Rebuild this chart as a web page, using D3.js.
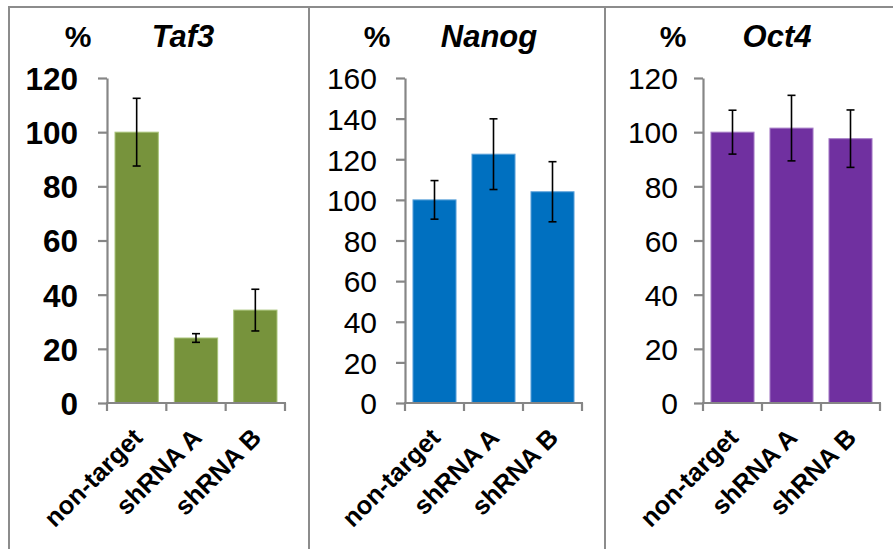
<!DOCTYPE html>
<html>
<head>
<meta charset="utf-8">
<script src="https://cdn.jsdelivr.net/npm/d3@7"></script>
<style>
  html, body { margin: 0; padding: 0; background: #fff; }
  svg { display: block; font-family: "Liberation Sans", Arial, sans-serif; }
</style>
</head>
<body>
<svg id="chart" width="893" height="549"></svg>
<script>
// Relative expression (%) after knockdown, three genes
const categories = ["non-target", "shRNA A", "shRNA B"];

const taf3Values = [100, 24, 34.3];
const taf3Errors = [12.5, 1.6, 7.7];

const nanogValues = [100, 122.5, 104];
const nanogErrors = [9.5, 17.4, 14.8];

const oct4Values = [100, 101.5, 97.6];
const oct4Errors = [8.1, 12.1, 10.6];

const taf3Ticks = [0, 20, 40, 60, 80, 100, 120];
const nanogTicks = [0, 20, 40, 60, 80, 100, 120, 140, 160];
const oct4Ticks = [0, 20, 40, 60, 80, 100, 120];

const panels = [
  { title: "Taf3", values: taf3Values, errors: taf3Errors, ticks: taf3Ticks,
    color: "#77933C", edge: "#a9c47a", x0: 107, x1: 285, pctX: 78, titleX: 183,
    tickBold: true, tickSize: 31.5, labelGap: 29 },
  { title: "Nanog", values: nanogValues, errors: nanogErrors, ticks: nanogTicks,
    color: "#0070C0", edge: "#5fa4db", x0: 405, x1: 582, pctX: 377, titleX: 489,
    tickBold: false, tickSize: 30, labelGap: 28 },
  { title: "Oct4", values: oct4Values, errors: oct4Errors, ticks: oct4Ticks,
    color: "#7030A0", edge: "#a77fc7", x0: 703, x1: 880, pctX: 673, titleX: 777,
    tickBold: false, tickSize: 30, labelGap: 25 }
];

const svg = d3.select("#chart");
const yTop = 78, yBottom = 403;
const axisColor = "#868686";

// Panel frames: shared top rule and vertical separators
const frame = svg.append("g").attr("stroke", "#8c8c8c").attr("stroke-width", 2).attr("fill", "none");
frame.append("line").attr("x1", 9).attr("x2", 893).attr("y1", 7).attr("y2", 7);
[9, 309, 605].forEach(x => {
  frame.append("line").attr("x1", x).attr("x2", x).attr("y1", 6).attr("y2", 549);
});

panels.forEach(p => {
  const g = svg.append("g");
  const yMax = d3.max(p.ticks);

  const x = d3.scaleBand().domain(categories).range([p.x0, p.x1])
    .paddingInner(0.27).paddingOuter(0.135);
  const y = d3.scaleLinear().domain([0, yMax]).range([yBottom, yTop]);

  // Bars
  g.selectAll("rect.bar").data(categories).join("rect")
    .attr("class", "bar")
    .attr("x", d => x(d))
    .attr("width", x.bandwidth())
    .attr("y", (d, i) => y(p.values[i]))
    .attr("height", (d, i) => y(0) - y(p.values[i]))
    .attr("fill", p.color)
    .attr("stroke", p.edge)
    .attr("stroke-width", 1);

  // Error bars
  const eb = g.append("g").attr("stroke", "#000").attr("stroke-width", 1.6);
  categories.forEach((c, i) => {
    const cx = x(c) + x.bandwidth() / 2;
    const hi = y(p.values[i] + p.errors[i]);
    const lo = y(p.values[i] - p.errors[i]);
    eb.append("line").attr("x1", cx).attr("x2", cx).attr("y1", hi).attr("y2", lo);
    eb.append("line").attr("x1", cx - 4).attr("x2", cx + 4).attr("y1", hi).attr("y2", hi);
    eb.append("line").attr("x1", cx - 4).attr("x2", cx + 4).attr("y1", lo).attr("y2", lo);
  });

  // Y axis
  const yAxis = g.append("g").attr("transform", `translate(${p.x0},0)`)
    .call(d3.axisLeft(y).tickValues(p.ticks).tickSize(9).tickSizeOuter(0).tickPadding(p.labelGap - 9));
  yAxis.select(".domain").attr("stroke", axisColor).attr("stroke-width", 2.2);
  yAxis.selectAll(".tick line").attr("stroke", axisColor).attr("stroke-width", 2.2);
  yAxis.selectAll(".tick text")
    .attr("fill", "#000")
    .attr("font-family", "Liberation Sans, Arial, sans-serif")
    .attr("font-size", p.tickSize)
    .attr("font-weight", p.tickBold ? "bold" : "normal")
    .attr("dy", "0.36em");

  // X axis with category ticks at band edges
  const edges = categories.map(c => x(c) - x.step() * x.paddingInner() / 2).concat([p.x1]);
  edges[0] = p.x0;
  const xa = g.append("g").attr("stroke", axisColor).attr("stroke-width", 2.2);
  xa.append("line").attr("x1", p.x0 - 1).attr("x2", p.x1 + 1).attr("y1", yBottom).attr("y2", yBottom);
  edges.forEach(e => {
    xa.append("line").attr("x1", e).attr("x2", e).attr("y1", yBottom).attr("y2", yBottom + 8);
  });

  // Rotated category labels
  g.selectAll("text.cat").data(categories).join("text")
    .attr("class", "cat")
    .attr("transform", d => `translate(${x(d) + x.bandwidth() / 2 + 1},${yBottom + 30}) rotate(-45)`)
    .attr("text-anchor", "end")
    .attr("dy", "0.35em")
    .attr("font-size", 25.5)
    .attr("font-weight", "bold")
    .attr("fill", "#000")
    .text(d => d);

  // Heading: unit and gene name
  g.append("text").attr("x", p.pctX).attr("y", 47).attr("text-anchor", "middle")
    .attr("font-size", 30).attr("font-weight", "bold").text("%");
  g.append("text").attr("x", p.titleX).attr("y", 47).attr("text-anchor", "middle")
    .attr("font-size", 31).attr("font-weight", "bold").attr("font-style", "italic").text(p.title);
});
</script>
</body>
</html>
